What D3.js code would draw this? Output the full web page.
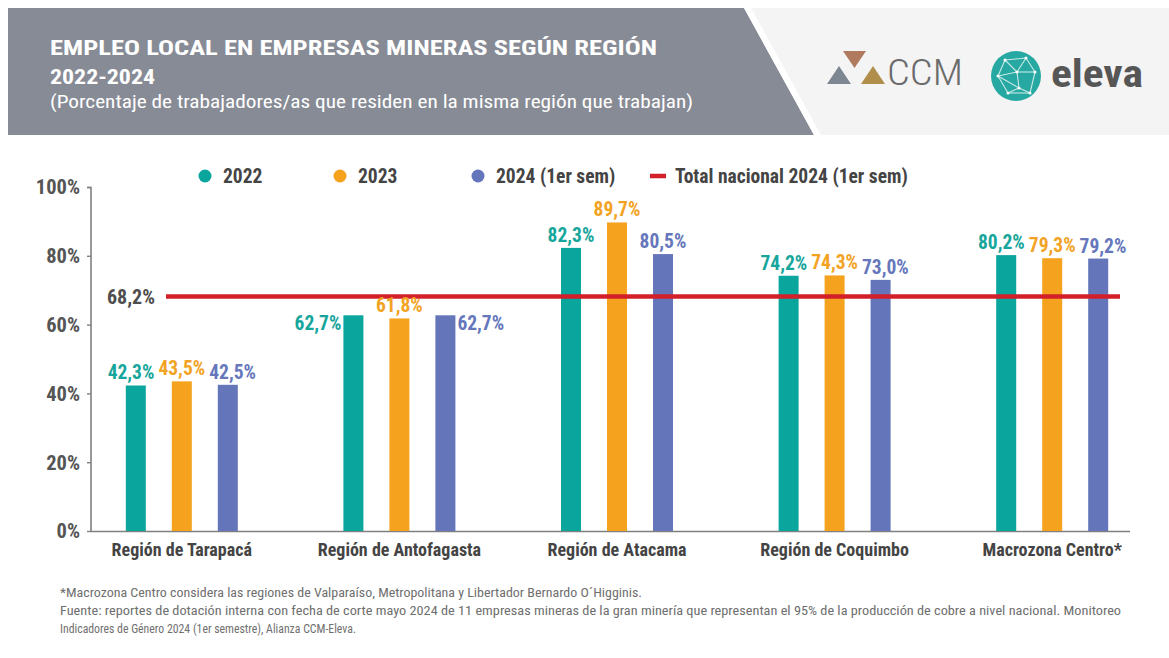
<!DOCTYPE html>
<html><head><meta charset="utf-8">
<script src="https://cdn.jsdelivr.net/npm/d3@7"></script>
<style>
html,body{margin:0;padding:0;background:#fff;}
svg{display:block;}
text{font-family:"Roboto Condensed","Liberation Sans Narrow","Arial Narrow","DejaVu Sans Condensed",Roboto,sans-serif;}
</style></head>
<body>
<svg id="c" width="1169" height="658"></svg>
<script>
const categories = ["Región de Tarapacá","Región de Antofagasta","Región de Atacama","Región de Coquimbo","Macrozona Centro*"];
const seriesNames = ["2022","2023","2024 (1er sem)"];
const values2022 = [42.3, 62.7, 82.3, 74.2, 80.2];
const values2023 = [43.5, 61.8, 89.7, 74.3, 79.3];
const values2024 = [42.5, 62.7, 80.5, 73.0, 79.2];
const nationalTotal = 68.2;
const nationalLabel = "Total nacional 2024 (1er sem)";
const yTicks = [0, 20, 40, 60, 80, 100];
const colors = ["#0aa59d", "#f5a31f", "#6475ba"];
const labelColors = ["#17a69c", "#f2a324", "#6677bb"];
const redColor = "#d21f2a";

const svg = d3.select("#c");
const fmt = v => d3.format(".1f")(v).replace(".", ",") + "%";

// ---------- header ----------
svg.append("rect").attr("x", 8).attr("y", 8).attr("width", 1161).attr("height", 127).attr("fill", "#f4f4f5");
svg.append("path").attr("d", "M8,8 L744,8 L814,135 L8,135 Z").attr("fill", "#878b95");
svg.append("path").attr("d", "M744,8 L751,8 L821,135 L814,135 Z").attr("fill", "#ffffff");

const head = svg.append("g").attr("fill", "#fff");
head.append("text").attr("x", 50).attr("y", 55).attr("font-size", 21).attr("font-weight", 700)
  .attr("textLength", 607).attr("lengthAdjust", "spacingAndGlyphs")
  .text("EMPLEO LOCAL EN EMPRESAS MINERAS SEGÚN REGIÓN");
head.append("text").attr("x", 50).attr("y", 84).attr("font-size", 21).attr("font-weight", 700)
  .attr("textLength", 105).attr("lengthAdjust", "spacingAndGlyphs")
  .text("2022-2024");
head.append("text").attr("x", 50).attr("y", 108).attr("font-size", 18).attr("font-weight", 400)
  .attr("textLength", 643).attr("lengthAdjust", "spacingAndGlyphs")
  .text("(Porcentaje de trabajadores/as que residen en la misma región  que trabajan)");

// CCM logo
const ccm = svg.append("g");
ccm.append("path").attr("d", "M827,84 L839,66 L851,84 Z").attr("fill", "#7d8791");
ccm.append("path").attr("d", "M843,51 L866,51 L854.5,68 Z").attr("fill", "#b07a5e");
ccm.append("path").attr("d", "M861,84 L873,66 L885,84 Z").attr("fill", "#b08e4c");
ccm.append("text").attr("x", 887).attr("y", 85).attr("font-size", 37).attr("fill", "#6b6b6b")
  .attr("font-family", "Roboto, 'Open Sans', sans-serif").attr("font-weight", 300)
  .attr("textLength", 76).attr("lengthAdjust", "spacingAndGlyphs").text("CCM");

// eleva logo
const el = svg.append("g");
el.append("circle").attr("cx", 1016).attr("cy", 76).attr("r", 25).attr("fill", "#27a8a2");
const pts = [[1005,60],[1026,58],[1035,72],[1030,93],[1008,93],[998,76],[1017,72],[1019,88]];
const edges = [[0,1],[1,2],[2,3],[3,4],[4,5],[5,0],[0,6],[1,6],[2,6],[6,7],[3,7],[4,7],[5,7],[5,6]];
edges.forEach(e => el.append("line")
  .attr("x1", pts[e[0]][0]).attr("y1", pts[e[0]][1]).attr("x2", pts[e[1]][0]).attr("y2", pts[e[1]][1])
  .attr("stroke", "#d8f1ef").attr("stroke-width", 1.1).attr("opacity", 0.9));
pts.forEach(p => el.append("circle").attr("cx", p[0]).attr("cy", p[1]).attr("r", 1.5).attr("fill", "#fff"));
el.append("text").attr("x", 1051).attr("y", 87).attr("font-size", 38).attr("fill", "#565656")
  .attr("font-family", "'Open Sans', Roboto, sans-serif").attr("font-weight", 700)
  .attr("textLength", 92).attr("lengthAdjust", "spacingAndGlyphs").text("eleva");

// ---------- scales ----------
const y = d3.scaleLinear().domain([0, 100]).range([531, 187]);
const x0 = d3.scaleBand().domain(categories).range([73, 1161]).paddingInner(0).paddingOuter(0);
const x1 = d3.scaleBand().domain(seriesNames).range([-56, 56]).paddingInner(0.565).paddingOuter(0);

const seriesValues = [values2022, values2023, values2024];
const data = categories.map((c, i) => ({cat: c, vals: seriesNames.map((s, j) => ({s, j, v: seriesValues[j][i]}))}));

// ---------- axes ----------
const yAxis = d3.axisLeft(y).tickValues(yTicks).tickSize(4).tickPadding(6).tickFormat(d => d + "%");
const ya = svg.append("g").attr("transform", "translate(91,0)").call(yAxis);
ya.select(".domain").attr("stroke", "#808080").attr("stroke-width", 1.6).attr("d", "M-4,187.5H0V531");
ya.selectAll(".tick line").attr("stroke", "#808080").attr("stroke-width", 1.4);
ya.selectAll(".tick text").attr("font-size", 20.5).attr("font-weight", 700).attr("fill", "#555")
  .attr("dy", "0.34em").attr("x", -11);

const xAxis = d3.axisBottom(x0).tickSize(0).tickPadding(12);
const xa = svg.append("g").attr("transform", "translate(0,531)").call(xAxis);
xa.select(".domain").attr("stroke", "#808080").attr("stroke-width", 1.6).attr("d", "M91,0.5H1130");
xa.selectAll(".tick text").attr("font-size", 18).attr("font-weight", 700).attr("fill", "#444")
  .attr("dy", "0.71em");

// ---------- bars ----------
const groups = svg.append("g").selectAll("g").data(data).join("g")
  .attr("transform", d => `translate(${x0(d.cat) + x0.bandwidth() / 2},0)`);
groups.selectAll("rect").data(d => d.vals).join("rect")
  .attr("x", d => x1(d.s)).attr("width", x1.bandwidth())
  .attr("y", d => y(d.v)).attr("height", d => y(0) - y(d.v))
  .attr("fill", d => colors[d.j]);

// ---------- national line ----------
svg.append("line").attr("x1", 166).attr("x2", 1120).attr("y1", y(nationalTotal)).attr("y2", y(nationalTotal))
  .attr("stroke", redColor).attr("stroke-width", 4.5);
svg.append("text").attr("x", 155).attr("y", y(nationalTotal)).attr("dy", "0.36em").attr("text-anchor", "end")
  .attr("font-size", 20).attr("font-weight", 700).attr("fill", "#4d4d4d").text(fmt(nationalTotal));

// ---------- value labels ----------
// Antofagasta: side placement for 2022 (left) and 2024 (right); others above, dodged.
const sideLabels = {"Región de Antofagasta": {0: "left", 2: "right"}};
const lblLayer = svg.append("g");
data.forEach(g => {
  const gx = x0(g.cat) + x0.bandwidth() / 2;
  const items = g.vals.map(d => {
    const cx = gx + x1(d.s) + x1.bandwidth() / 2;
    const side = (sideLabels[g.cat] || {})[d.j];
    const t = lblLayer.append("text").attr("font-size", 19.5).attr("font-weight", 700)
      .attr("fill", labelColors[d.j]).text(fmt(d.v));
    const w = t.node().getComputedTextLength();
    let x, yy;
    if (side === "left") { x = gx + x1(d.s) - 2 - w / 2; yy = y(d.v) + 15; }
    else if (side === "right") { x = gx + x1(d.s) + x1.bandwidth() + 2 + w / 2; yy = y(d.v) + 15; }
    else { x = cx; yy = y(d.v) - 6; }
    return {t, x, y: yy, w, side};
  });
  // simple dodge for top labels at similar heights
  for (let iter = 0; iter < 20; iter++) {
    for (let k = 0; k < items.length - 1; k++) {
      const a = items[k], b = items[k + 1];
      if (a.side || b.side) continue;
      if (Math.abs(a.y - b.y) > 16) continue;
      const gap = (b.x - b.w / 2) - (a.x + a.w / 2);
      if (gap < 4) { const s = (4 - gap) / 2; a.x -= s; b.x += s; }
    }
  }
  items.forEach(it => it.t.attr("x", it.x).attr("y", it.y).attr("text-anchor", "middle"));
});

// ---------- legend ----------
const leg = svg.append("g");
const legX = [205, 340, 478];
seriesNames.forEach((s, j) => {
  leg.append("circle").attr("cx", legX[j]).attr("cy", 176).attr("r", 6.5).attr("fill", colors[j]);
  leg.append("text").attr("x", legX[j] + 18).attr("y", 176).attr("dy", "0.36em")
    .attr("font-size", 19.5).attr("font-weight", 700).attr("fill", "#444").text(s);
});
leg.append("line").attr("x1", 650).attr("x2", 666).attr("y1", 176).attr("y2", 176).attr("stroke", redColor).attr("stroke-width", 4.5);
leg.append("text").attr("x", 675).attr("y", 176).attr("dy", "0.36em")
  .attr("font-size", 19.5).attr("font-weight", 700).attr("fill", "#444").text(nationalLabel);

// ---------- footer ----------
const foot = svg.append("g").attr("fill", "#6f6f6f").attr("font-size", 13.5);
foot.append("text").attr("x", 60).attr("y", 597).attr("textLength", 582).attr("lengthAdjust", "spacingAndGlyphs")
  .text("*Macrozona Centro considera las regiones de Valparaíso, Metropolitana y Libertador Bernardo O´Higginis.");
foot.append("text").attr("x", 60).attr("y", 615).attr("textLength", 1061).attr("lengthAdjust", "spacingAndGlyphs")
  .text("Fuente: reportes de dotación interna con fecha de corte mayo 2024 de 11 empresas mineras de la gran minería que representan el 95% de la producción de cobre a nivel nacional. Monitoreo");
foot.append("text").attr("x", 60).attr("y", 633).attr("textLength", 296).attr("lengthAdjust", "spacingAndGlyphs")
  .text("Indicadores de Género 2024 (1er semestre), Alianza CCM-Eleva.");
</script>
</body></html>
